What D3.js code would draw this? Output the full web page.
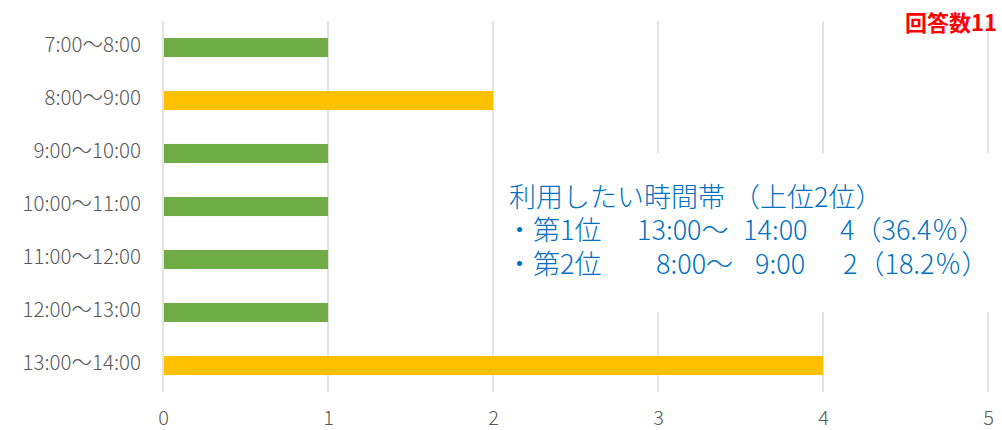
<!DOCTYPE html>
<html><head><meta charset="utf-8">
<script src="https://cdn.jsdelivr.net/npm/d3@7"></script>
<style>
body{margin:0;background:#fff;}
text{font-family:"Noto Sans CJK JP","Noto Sans",sans-serif;}
</style></head>
<body><svg id="c" width="1002" height="430"></svg>
<script>
const categories = ["7:00〜8:00","8:00〜9:00","9:00〜10:00","10:00〜11:00","11:00〜12:00","12:00〜13:00","13:00〜14:00"];
const values = [1,2,1,1,1,1,4];
const highlight = [false,true,false,false,false,false,true];
const xTicks = [0,1,2,3,4,5];
const noteTitle = ["利用したい時間帯","（上位2位）"];
const rank1 = ["・第1位","13:00〜","14:00","4（36.4％）"];
const rank2 = ["・第2位","8:00〜","9:00","2（18.2％）"];
const totalLabel = "回答数11";

const svg = d3.select("#c");
const m = {l:163, r:14, t:21, b:38};
const W = 1002, H = 430;
const x = d3.scaleLinear().domain([0,5]).range([m.l, 988]);
const y = d3.scaleBand().domain(categories).range([m.t, H - m.b]).paddingInner(0.64).paddingOuter(0.32);

svg.append("g").selectAll("line").data(xTicks).join("line")
  .attr("x1", d=>x(d)).attr("x2", d=>x(d)).attr("y1", m.t).attr("y2", H - m.b)
  .attr("stroke", "#d9d9d9").attr("stroke-width", 1.5);

svg.append("g").selectAll("rect").data(values).join("rect")
  .attr("x", x(0)+1).attr("y", (d,i)=>y(categories[i]))
  .attr("width", d=>x(d)-x(0)-1).attr("height", y.bandwidth())
  .attr("fill", (d,i)=>highlight[i] ? "#FFC000" : "#70AD47");

const yAxis = d3.axisLeft(y).tickSize(0).tickPadding(22);
const ga = svg.append("g").attr("transform", `translate(${x(0)},0)`).call(yAxis);
ga.select(".domain").remove();
ga.selectAll("text").attr("fill", "#595959").attr("dy", "0.22em").style("font-size", "20.5px").style("font-weight", "300").style("font-family", '"Noto Sans CJK JP",sans-serif');

const xAxis = d3.axisBottom(x).tickValues(xTicks).tickSize(0).tickPadding(20).tickFormat(d3.format("d"));
const gx = svg.append("g").attr("transform", `translate(0,${H - m.b})`).call(xAxis);
gx.select(".domain").remove();
gx.selectAll("text").attr("fill", "#595959").style("font-size", "20px").style("font-weight", "300").style("font-family", '"Noto Sans CJK JP",sans-serif')
  .attr("dy", "0.36em").attr("y", 26);

// annotation box covering gridlines
svg.append("rect").attr("x", 494).attr("y", 153).attr("width", 520).attr("height", 159).attr("fill", "#fff");
svg.append("line").attr("x1", 492.5).attr("x2", 492.5).attr("y1", 153).attr("y2", 312).attr("stroke", "#e6e6e6").attr("stroke-width", 1);

const note = svg.append("g").attr("fill", "#0070C0").style("font-size", "27px").style("font-weight", "300");
const t0 = note.append("text").attr("y", 197).attr("dy", "0.37em");
t0.selectAll("tspan").data(noteTitle).join("tspan").attr("x", (d,i)=>[509, 733][i]).text(d=>d);
const colX1 = [506, 637, 743, 840];
const colX2 = [506, 656, 755, 843];
[[rank1, colX1, 230.5], [rank2, colX2, 264]].forEach(([segs, cols, yy]) => {
  const t = note.append("text").attr("y", yy).attr("dy", "0.37em");
  t.selectAll("tspan").data(segs).join("tspan").attr("x", (d,i)=>cols[i]).text(d=>d);
});

svg.append("text").attr("x", 997).attr("y", 23).attr("dy", "0.35em").attr("text-anchor", "end")
  .attr("fill", "#FF0000").style("font-size", "22px").style("font-weight", "bold").text(totalLabel);
</script></body></html>
